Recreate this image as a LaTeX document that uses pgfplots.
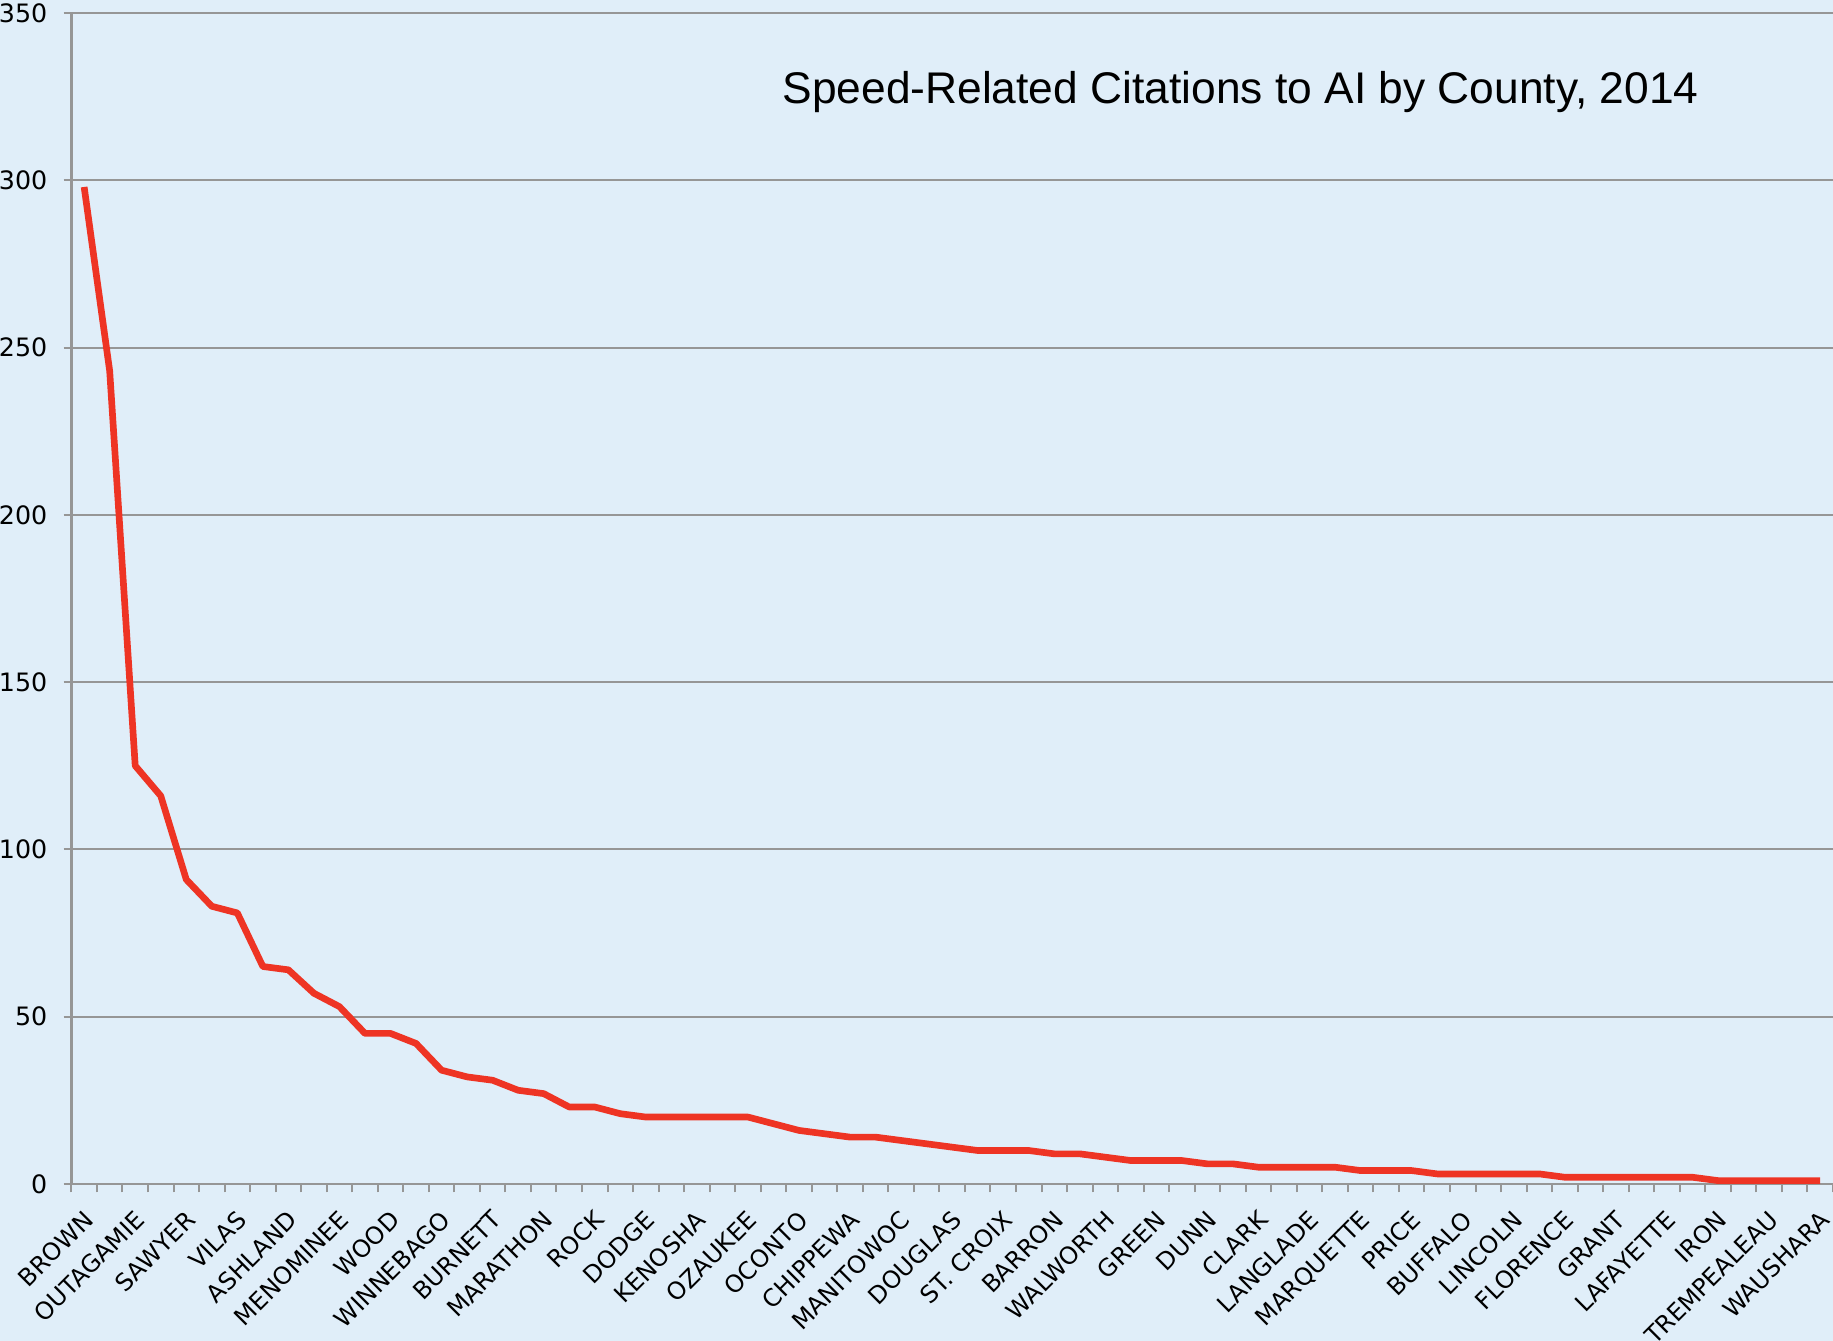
\documentclass[border=0pt]{standalone}
\usepackage{pgfplots}
\pgfplotsset{compat=1.18}
\usepackage{fontspec}
\setmainfont{DejaVu Sans}
\newfontfamily\titlefont{Liberation Sans}
\definecolor{bg}{RGB}{224,238,249}
\definecolor{gridc}{RGB}{150,150,150}
\definecolor{linec}{RGB}{238,52,36}
\begin{document}
\begin{tikzpicture}
\fill[bg] (-21.42pt,-47.1pt) rectangle (528.5pt,355.2pt);
\useasboundingbox (-21.42pt,-47.1pt) rectangle (528.5pt,355.2pt);
\begin{axis}[
 at={(0,0)}, anchor=south west,
 scale only axis, width=528.5pt, height=351.3pt,
 xmin=-0.5, xmax=68.5, ymin=0, ymax=350,
 axis lines*=left, axis line style={-, draw=gridc, line width=0.7pt},
 ytick={0,50,...,350}, ymajorgrids, grid style={gridc, line width=0.6pt},
 xtick={0,2,...,68},
 xticklabels={BROWN,OUTAGAMIE,SAWYER,VILAS,ASHLAND,MENOMINEE,WOOD,WINNEBAGO,BURNETT,MARATHON,ROCK,DODGE,KENOSHA,OZAUKEE,OCONTO,CHIPPEWA,MANITOWOC,DOUGLAS,ST. CROIX,BARRON,WALWORTH,GREEN,DUNN,CLARK,LANGLADE,MARQUETTE,PRICE,BUFFALO,LINCOLN,FLORENCE,GRANT,LAFAYETTE,IRON,TREMPEALEAU,WAUSHARA},
 every major x tick/.append style={draw=none},
 minor xtick={-0.5,0.5,...,68.5},
 every minor x tick/.append style={draw=gridc, line width=0.6pt},
 tick align=outside, major tick length=2.3pt, minor tick length=2.5pt,
 every major y tick/.append style={draw=gridc, line width=0.6pt},
 xticklabel style={xshift=-0.6pt, yshift=-5pt, rotate=45, anchor=north east, inner sep=0pt, font=\fontsize{7.2}{8}\selectfont},
 yticklabel style={font=\fontsize{7.6}{9}\selectfont, xshift=-1.4pt},
 /pgf/number format/assume math mode=true,
 clip=false,
]
\addplot[linec, line width=2pt, line join=round] coordinates {
(0,298) (1,243) (2,125) (3,116) (4,91) (5,83) (6,81) (7,65) (8,64) (9,57)
(10,53) (11,45) (12,45) (13,42) (14,34) (15,32) (16,31) (17,28) (18,27) (19,23)
(20,23) (21,21) (22,20) (23,20) (24,20) (25,20) (26,20) (27,18) (28,16) (29,15)
(30,14) (31,14) (32,13) (33,12) (34,11) (35,10) (36,10) (37,10) (38,9) (39,9)
(40,8) (41,7) (42,7) (43,7) (44,6) (45,6) (46,5) (47,5) (48,5) (49,5)
(50,4) (51,4) (52,4) (53,3) (54,3) (55,3) (56,3) (57,3) (58,2) (59,2)
(60,2) (61,2) (62,2) (63,2) (64,1) (65,1) (66,1) (67,1) (68,1)
};
\node[anchor=base west, inner sep=0pt, font=\titlefont\fontsize{13.3}{15}\selectfont] at (axis cs:27.33,323) {Speed-Related Citations to AI by County, 2014};
\end{axis}
\end{tikzpicture}
\end{document}
